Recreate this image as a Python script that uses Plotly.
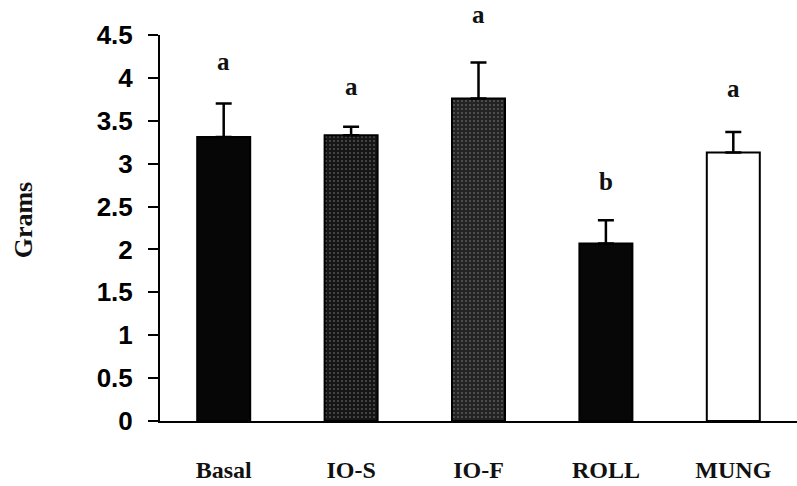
import plotly.graph_objects as go

categories = ["Basal", "IO-S", "IO-F", "ROLL", "MUNG"]
means = [3.31, 3.33, 3.76, 2.07, 3.13]
errors = [0.39, 0.10, 0.42, 0.27, 0.24]
letters = ["a", "a", "a", "b", "a"]
letter_y = [4.19, 3.90, 4.74, 2.79, 3.88]
y_ticks = [0, 0.5, 1, 1.5, 2, 2.5, 3, 3.5, 4, 4.5]
y_tick_labels = ["0", "0.5", "1", "1.5", "2", "2.5", "3", "3.5", "4", "4.5"]
y_max = 4.5

bar_colors = ["#060606", "#161616", "#232323", "#070707", "#ffffff"]
pattern_shapes = ["", ".", ".", "", ""]

fig = go.Figure()
fig.add_trace(go.Bar(
    x=categories, y=means, width=0.416,
    marker=dict(
        color=bar_colors,
        line=dict(color="#000000", width=2),
        pattern=dict(shape=pattern_shapes, fgcolor="#444444",
                     bgcolor=bar_colors, size=4, solidity=0.1,
                     fillmode="overlay"),
    ),
    error_y=dict(type="data", symmetric=False, array=errors,
                 arrayminus=[0] * len(errors), color="#000000",
                 thickness=2.5, width=8),
    showlegend=False,
))

serif = "Liberation Serif, Times New Roman, serif"
for c, t, yy in zip(categories, letters, letter_y):
    fig.add_annotation(x=c, y=yy / y_max, text="<b>%s</b>" % t, showarrow=False,
                       xref="x", yref="paper", yanchor="middle",
                       font=dict(family=serif, size=25, color="#111111"))

fig.add_annotation(x=-0.215, xref="paper", xanchor="center",
                   y=2.34 / y_max, yref="paper", yanchor="middle",
                   text="<b>Grams</b>", textangle=-90, showarrow=False,
                   font=dict(family=serif, size=26, color="#111111"))

fig.update_layout(
    width=797, height=486,
    margin=dict(l=160, r=0, t=35, b=65),
    paper_bgcolor="#ffffff", plot_bgcolor="#ffffff",
    bargap=0.58,
    xaxis=dict(
        type="category", range=[-0.5, 4.5],
        showline=True, linecolor="#000000", linewidth=2,
        ticks="", showgrid=False, zeroline=False,
        tickfont=dict(family=serif, size=24, color="#111111"),
        tickprefix="<b>", ticksuffix="</b>",
        ticklabelstandoff=26,
    ),
    yaxis=dict(
        range=[0, y_max], tickvals=y_ticks, ticktext=y_tick_labels,
        showline=True, linecolor="#000000", linewidth=2,
        ticks="outside", ticklen=10, tickwidth=2, tickcolor="#000000",
        showgrid=False, zeroline=False,
        tickfont=dict(family="Liberation Sans, Arial, sans-serif", size=26,
                      color="#000000", weight="bold"),
        ticklabelstandoff=10,
    ),
)

fig.write_html("out.html")
